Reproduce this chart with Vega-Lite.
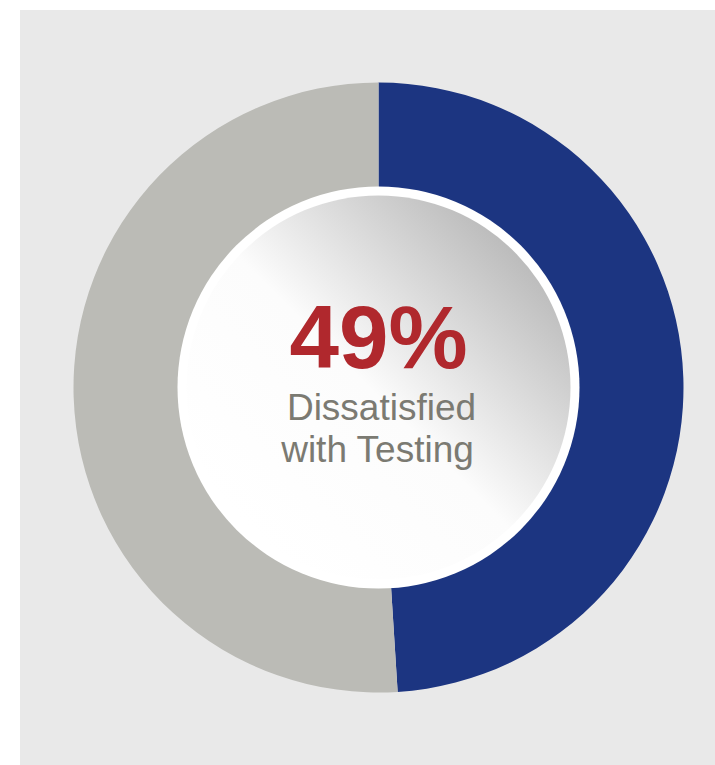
{
  "$schema": "https://vega.github.io/schema/vega-lite/v6.json",
  "autosize": {"type": "fit", "contains": "padding"},
  "width": 715,
  "height": 765,
  "padding": {"left": 20, "top": 10, "right": 0, "bottom": 0},
  "background": "#ffffff",
  "view": {"fill": "#e9e9e9", "stroke": null},
  "config": {"view": {"fill": "#e9e9e9", "stroke": null}},
  "datasets": {
    "slices": [
      {"category": "Dissatisfied", "value": 49, "rank": 1},
      {"category": "Other", "value": 51, "rank": 2}
    ],
    "label": [
      {"pct": "49%", "line1": "Dissatisfied", "line2": "with Testing"}
    ]
  },
  "layer": [
    {
      "data": {"name": "slices"},
      "mark": {"type": "arc", "outerRadius": 305, "innerRadius": 200, "xOffset": 11, "stroke": null},
      "encoding": {
        "theta": {"field": "value", "type": "quantitative", "stack": true},
        "order": {"field": "rank", "type": "quantitative"},
        "color": {
          "field": "category",
          "type": "nominal",
          "scale": {"domain": ["Dissatisfied", "Other"], "range": ["#1c3581", "#bbbbb6"]},
          "legend": null
        }
      }
    },
    {
      "data": {"name": "label"},
      "mark": {"type": "arc", "outerRadius": 201, "innerRadius": 0, "theta": 0, "theta2": 6.2832, "xOffset": 11, "fill": "#ffffff", "stroke": null},
      "encoding": {}
    },
    {
      "data": {"name": "label"},
      "mark": {
        "type": "arc", "outerRadius": 192, "innerRadius": 0, "theta": 0, "theta2": 6.2832, "xOffset": 11, "stroke": null,
        "fill": {
          "gradient": "linear", "x1": 0.15, "y1": 0.85, "x2": 0.9, "y2": 0.1,
          "stops": [
            {"offset": 0, "color": "#ffffff"},
            {"offset": 0.45, "color": "#fcfcfc"},
            {"offset": 1, "color": "#b4b4b4"}
          ]
        }
      },
      "encoding": {}
    },
    {
      "data": {"name": "label"},
      "mark": {"type": "text", "font": "Liberation Sans", "fontWeight": "bold", "fontSize": 89, "color": "#b0282d", "align": "center", "baseline": "alphabetic", "xOffset": 11, "dy": -20},
      "encoding": {"text": {"field": "pct", "type": "nominal"}}
    },
    {
      "data": {"name": "label"},
      "mark": {"type": "text", "font": "Liberation Sans", "fontSize": 37, "color": "#7b7a72", "align": "center", "baseline": "alphabetic", "xOffset": 14, "dy": 32},
      "encoding": {"text": {"field": "line1", "type": "nominal"}}
    },
    {
      "data": {"name": "label"},
      "mark": {"type": "text", "font": "Liberation Sans", "fontSize": 37, "color": "#7b7a72", "align": "center", "baseline": "alphabetic", "xOffset": 10, "dy": 74},
      "encoding": {"text": {"field": "line2", "type": "nominal"}}
    }
  ]
}
